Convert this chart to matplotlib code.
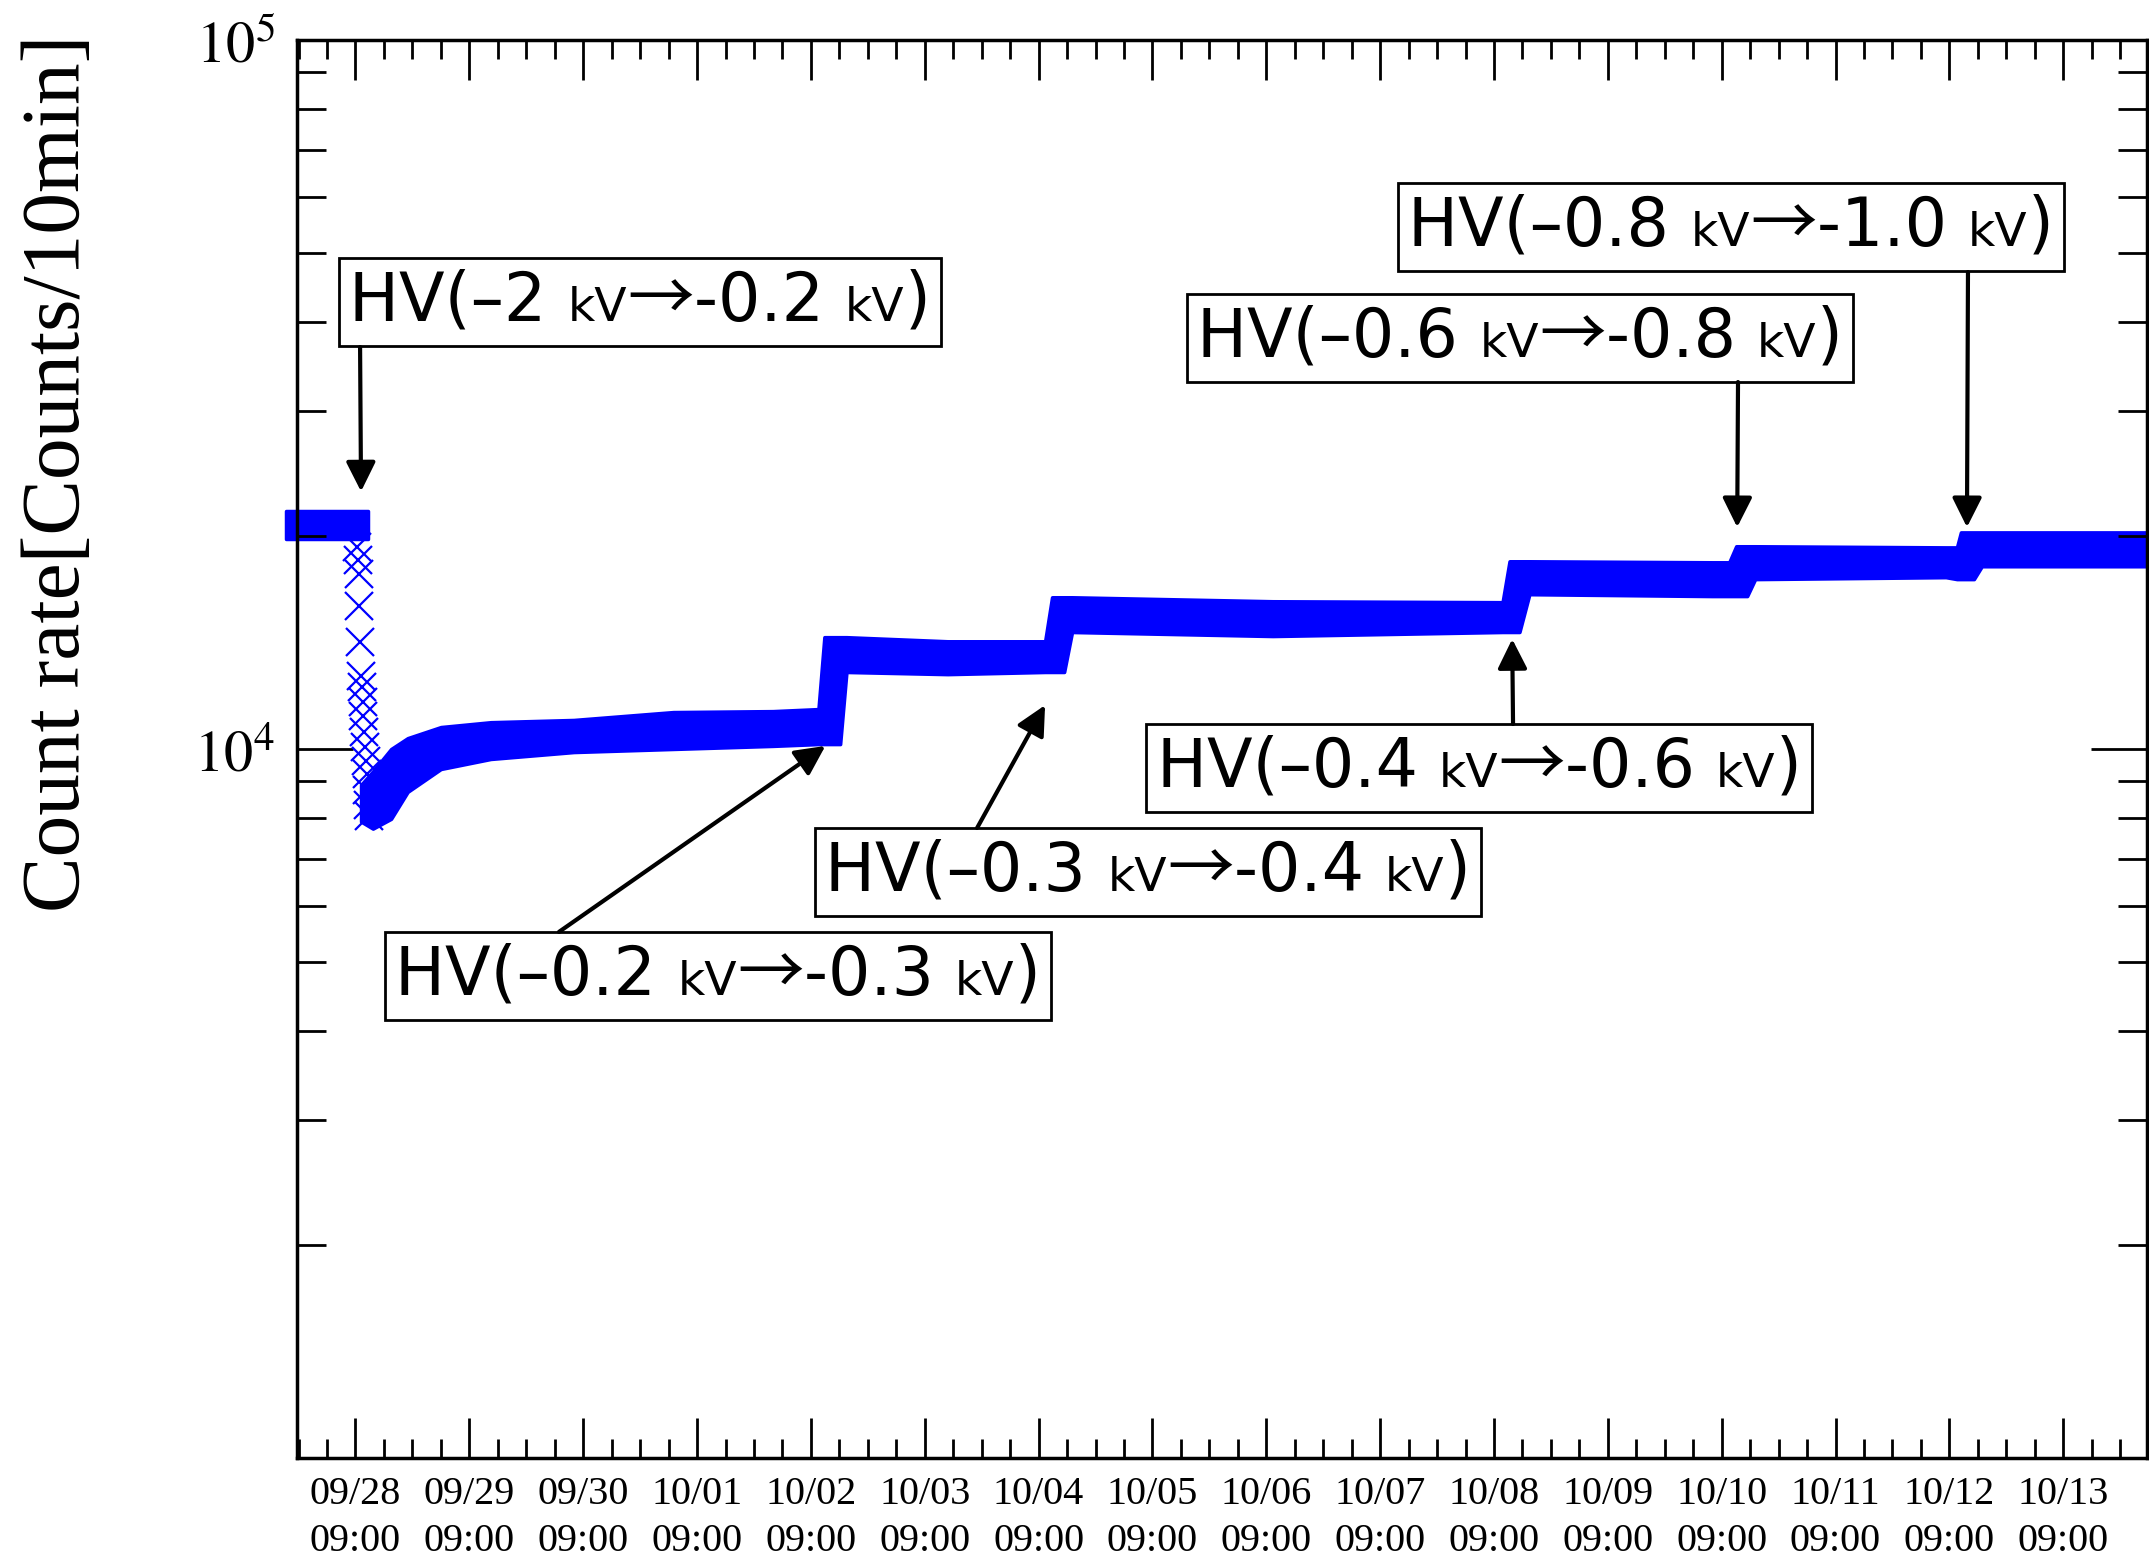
import matplotlib
matplotlib.use("Agg")
import matplotlib.pyplot as plt
import matplotlib.dates as mdates
from matplotlib.offsetbox import TextArea, HPacker, AnnotationBbox
from matplotlib.ticker import FixedLocator, LogLocator, FuncFormatter, NullFormatter
import numpy as np

plt.rcParams['mathtext.fontset'] = 'stix'

# count rate before the HV change (outer edges of the 10 min points)
base_time = np.array(['2013-09-27T18:25', '2013-09-28T11:40'], dtype='datetime64[m]')
base_low = [19760, 19760]
base_high = [21640, 21640]

# single 10 min points while the HV was being switched down
drop_time = np.array(['2013-09-28T09:20', '2013-09-28T09:30', '2013-09-28T09:40',
                      '2013-09-28T09:50', '2013-09-28T10:00', '2013-09-28T10:10',
                      '2013-09-28T10:20', '2013-09-28T10:30', '2013-09-28T10:40',
                      '2013-09-28T10:50', '2013-09-28T11:00', '2013-09-28T11:10',
                      '2013-09-28T11:20', '2013-09-28T11:30', '2013-09-28T11:40',
                      '2013-09-28T11:50'], dtype='datetime64[m]')
drop_rate = [19300, 18500, 17640, 15890, 14150, 12680, 12220, 11650,
             11120, 10570, 10060, 9620, 9220, 8760, 8350, 8050]

# count rate band after the change, lower and upper edges
band_time = np.array([
    '2013-09-28T10:10', '2013-09-28T12:40', '2013-09-28T16:30', '2013-09-28T20:00',
    '2013-09-29T03:00', '2013-09-29T13:30', '2013-09-30T07:00', '2013-10-01T04:00',
    '2013-10-02T01:00', '2013-10-02T10:35', '2013-10-02T11:50', '2013-10-02T15:10',
    '2013-10-02T16:30', '2013-10-03T13:50', '2013-10-04T10:22', '2013-10-04T11:50',
    '2013-10-04T14:23', '2013-10-04T16:03', '2013-10-06T10:22', '2013-10-08T10:48',
    '2013-10-08T12:16', '2013-10-08T14:22', '2013-10-08T16:28', '2013-10-10T07:00',
    '2013-10-10T10:35', '2013-10-10T12:03', '2013-10-10T14:22', '2013-10-10T16:03',
    '2013-10-12T08:15', '2013-10-12T10:35', '2013-10-12T11:25', '2013-10-12T14:10',
    '2013-10-12T15:50', '2013-10-14T02:23'], dtype='datetime64[m]')
band_low = [7900, 7720, 7970, 8700, 9370, 9680, 9900, 10000,
            10100, 10160, 10160, 10160, 12840, 12750, 12840, 12840,
            12840, 14620, 14430, 14620, 14620, 14620, 16530, 16430,
            16430, 16430, 16430, 17360, 17470, 17360, 17360, 17360,
            18100, 18100]
band_high = [8900, 9300, 10000, 10360, 10740, 10910, 10990, 11275,
             11310, 11385, 14380, 14380, 14380, 14190, 14190, 16370,
             16370, 16370, 16160, 16110, 18400, 18400, 18400, 18340,
             18340, 19320, 19320, 19320, 19250, 19250, 20210, 20210,
             20210, 20210]

# HV changes: labels, arrow tips (data), arrow tails and box corners (axes fraction)
hv_from = ['–2', '–0.2', '–0.3', '–0.4', '–0.6', '–0.8']
hv_to = ['-0.2', '-0.3', '-0.4', '-0.6', '-0.8', '-1.0']
tip_time = np.array(['2013-09-28T10:10', '2013-10-02T12:03', '2013-10-04T10:22',
                     '2013-10-08T12:50', '2013-10-10T12:16', '2013-10-12T12:42'],
                    dtype='datetime64[m]')
tip_rate = [23080, 10100, 11530, 14290, 20550, 20550]
tail_xy = [(0.0341, 0.7835), (0.1416, 0.371), (0.3676, 0.4443),
           (0.6573, 0.5176), (0.7789, 0.7588), (0.9032, 0.8364)]
box_xy = [(0.0227, 0.8463), (0.0476, 0.371), (0.280, 0.4443),
          (0.459, 0.5176), (0.481, 0.8209), (0.5951, 0.8992)]

fig = plt.figure(figsize=(21.49, 15.57), dpi=100)
ax = fig.add_axes([0.1382, 0.0636, 0.8609, 0.9107])

blue = '#0000ff'
ax.fill_between(base_time, base_low, base_high, color=blue, lw=2.5, clip_on=False)
ax.fill_between(band_time, band_low, band_high, color=blue, lw=2.5, clip_on=False)
ax.plot(drop_time, drop_rate, ls='none', marker='x', ms=20, mew=1.6, color=blue)

ax.set_yscale('log')
ax.set_ylim(1000, 100000)
ax.set_xlim(np.datetime64('2013-09-27T20:40'), np.datetime64('2013-10-14T02:40'))

ax.yaxis.set_major_locator(FixedLocator([1e4, 1e5]))
ax.yaxis.set_major_formatter(FuncFormatter(lambda v, pos: r'$10^{%d}$' % round(np.log10(v))))
ax.yaxis.set_minor_locator(LogLocator(base=10, subs=np.arange(2, 10)))
ax.yaxis.set_minor_formatter(NullFormatter())
ax.xaxis.set_major_locator(mdates.HourLocator(byhour=[9]))
ax.xaxis.set_minor_locator(mdates.HourLocator(byhour=[3, 9, 15, 21]))
ax.xaxis.set_major_formatter(mdates.DateFormatter('%m/%d\n%H:%M'))

ax.tick_params(which='both', direction='in', top=True, right=True, width=2, color='black')
ax.tick_params(axis='x', which='major', length=29, pad=13)
ax.tick_params(axis='x', which='minor', length=14)
ax.tick_params(axis='y', which='major', length=40, pad=16, labelsize=42)
ax.tick_params(axis='y', which='minor', length=21)
for lab in ax.get_xticklabels():
    lab.set_fontfamily('Liberation Serif')
    lab.set_fontsize(29)
    lab.set_linespacing(1.35)
for sp in ax.spines.values():
    sp.set_linewidth(2.5)

fig.text(0.0275, 0.696, 'Count rate[Counts/10min]', rotation=90, fontsize=60,
         family='Liberation Serif', ha='center', va='center')

big = dict(family='DejaVu Sans', size=48, color='black')
small = dict(family='DejaVu Sans', size=34, color='black')
arrow_font = dict(family=['Noto Sans CJK JP', 'DejaVu Sans'], size=48, color='black')

for i in range(len(hv_from)):
    parts = [TextArea('HV(' + hv_from[i] + ' ', textprops=big),
             TextArea('kV', textprops=small),
             TextArea('→', textprops=arrow_font),
             TextArea(hv_to[i] + ' ', textprops=big),
             TextArea('kV', textprops=small),
             TextArea(')', textprops=big)]
    row = HPacker(children=parts, align='baseline', pad=7.5, sep=0)
    ab = AnnotationBbox(row, box_xy[i], xycoords='axes fraction', box_alignment=(0, 1),
                        pad=0, frameon=True,
                        bboxprops=dict(edgecolor='black', facecolor='white', lw=2))
    ax.add_artist(ab)
    ax.annotate('', xy=(mdates.date2num(tip_time[i]), tip_rate[i]), xycoords='data',
                xytext=tail_xy[i], textcoords='axes fraction',
                arrowprops=dict(arrowstyle='-|>,head_length=0.9,head_width=0.45',
                                mutation_scale=20, lw=3, color='black',
                                shrinkA=0, shrinkB=0))

fig.savefig('out.png', dpi=100)
